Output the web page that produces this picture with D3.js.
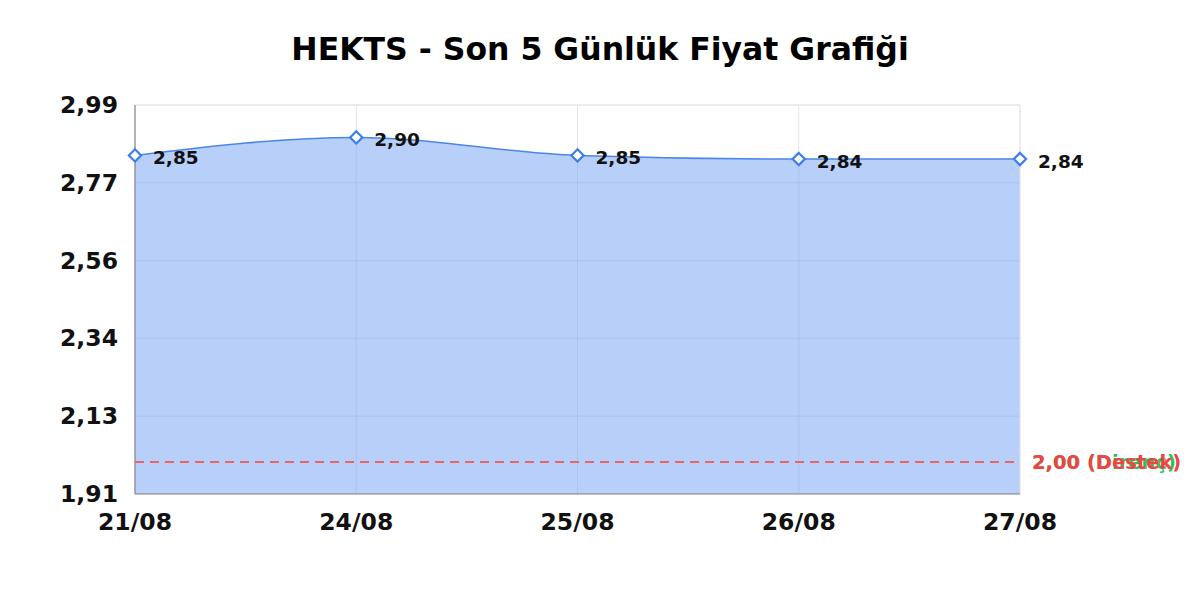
<!DOCTYPE html>
<html><head><meta charset="utf-8">
<script src="https://cdn.jsdelivr.net/npm/d3@7"></script>
<style>body{margin:0;background:#fff}svg{display:block}text{font-family:"DejaVu Sans",sans-serif;font-weight:bold}</style>
</head><body><svg id="c" width="1200" height="600"></svg>
<script>
const title = "HEKTS - Son 5 Günlük Fiyat Grafiği";
const dates = ["21/08","24/08","25/08","26/08","27/08"];
const prices = [2.85, 2.90, 2.85, 2.84, 2.84];
const yTicks = [1.91, 2.126, 2.342, 2.558, 2.774, 2.99];
const resistance = 2.00, support = 2.00;
const levelLabels = ["2,00 (Direnç)", "2,00 (Destek)"];

const svg = d3.select("#c");
const m = {l:135, r:1020, t:105, b:494};
const x = d3.scalePoint().domain(dates).range([m.l, m.r]);
const y = d3.scaleLinear().domain([1.91, 2.99]).range([m.b, m.t]);
const fmt = v => d3.format(".2f")(v).replace(".", ",");

svg.append("text").attr("x",600).attr("y",60).attr("text-anchor","middle")
  .attr("font-size",31.5).attr("fill","#000").text(title);

// area
const pts = dates.map((d,i)=>({d, v:prices[i]}));
const area = d3.area().x(p=>x(p.d)).y0(y(1.91)).y1(p=>y(p.v)).curve(d3.curveMonotoneX);
const line = d3.line().x(p=>x(p.d)).y(p=>y(p.v)).curve(d3.curveMonotoneX);
svg.append("path").attr("d",area(pts)).attr("fill","#b8cff9");

// grid
const g = svg.append("g");
g.selectAll(".hg").data(yTicks).join("line")
  .attr("x1",m.l).attr("x2",m.r).attr("y1",d=>y(d)).attr("y2",d=>y(d))
  .attr("stroke","rgba(150,170,200,0.3)").attr("stroke-width",1);
g.selectAll(".vg").data(dates).join("line")
  .attr("x1",d=>x(d)).attr("x2",d=>x(d)).attr("y1",m.t).attr("y2",m.b)
  .attr("stroke","rgba(150,170,200,0.3)").attr("stroke-width",1);

svg.append("path").attr("d",line(pts)).attr("fill","none").attr("stroke","#4a86e8").attr("stroke-width",1.5);

// frame
svg.append("line").attr("x1",m.l).attr("x2",m.r).attr("y1",m.t).attr("y2",m.t).attr("stroke","#e6e6e6");
svg.append("line").attr("x1",m.r).attr("x2",m.r).attr("y1",m.t).attr("y2",m.b).attr("stroke","#e6e6e6");
svg.append("line").attr("x1",m.l).attr("x2",m.l).attr("y1",m.t).attr("y2",m.b).attr("stroke","#888").attr("stroke-width",1.2);
svg.append("line").attr("x1",m.l).attr("x2",m.r).attr("y1",m.b).attr("y2",m.b).attr("stroke","#888").attr("stroke-width",1.2);

// level lines
const levels = [
  {v:resistance,c:"#22c55e",lc:"#5cc97f",w:1.0,t:levelLabels[0]},
  {v:support,c:"#ef4444",lc:"#ec6464",w:2.0,t:levelLabels[1]}];
levels.forEach(L=>{
  const yy = Math.round(y(L.v));
  svg.append("line").attr("x1",m.l).attr("x2",m.r).attr("y1",yy).attr("y2",yy)
    .attr("stroke",L.lc).attr("stroke-width",L.w).attr("stroke-dasharray","9,6");
  svg.append("text").attr("x",m.r+12).attr("y",y(L.v)+7).attr("font-size",19.5).attr("fill",L.c).text(L.t);
});

// markers & labels
svg.selectAll(".mk").data(pts).join("path")
  .attr("d", d3.symbol().type(d3.symbolDiamond2).size(95))
  .attr("transform",p=>`translate(${x(p.d)},${y(p.v)})`)
  .attr("fill","#fff").attr("stroke","#3b7ded").attr("stroke-width",2.2);
svg.selectAll(".lb").data(pts).join("text")
  .attr("x",p=>x(p.d)+18).attr("y",p=>y(p.v)+9)
  .attr("font-size",18.5).attr("fill","#111").text(p=>fmt(p.v));

// axes labels
svg.selectAll(".yt").data(yTicks).join("text")
  .attr("x",118).attr("y",d=>y(d)+8).attr("text-anchor","end")
  .attr("font-size",23.5).attr("fill","#111").text(fmt);
svg.selectAll(".xt").data(dates).join("text")
  .attr("x",d=>x(d)).attr("y",530).attr("text-anchor","middle")
  .attr("font-size",23.5).attr("fill","#111").text(d=>d);
</script></body></html>
